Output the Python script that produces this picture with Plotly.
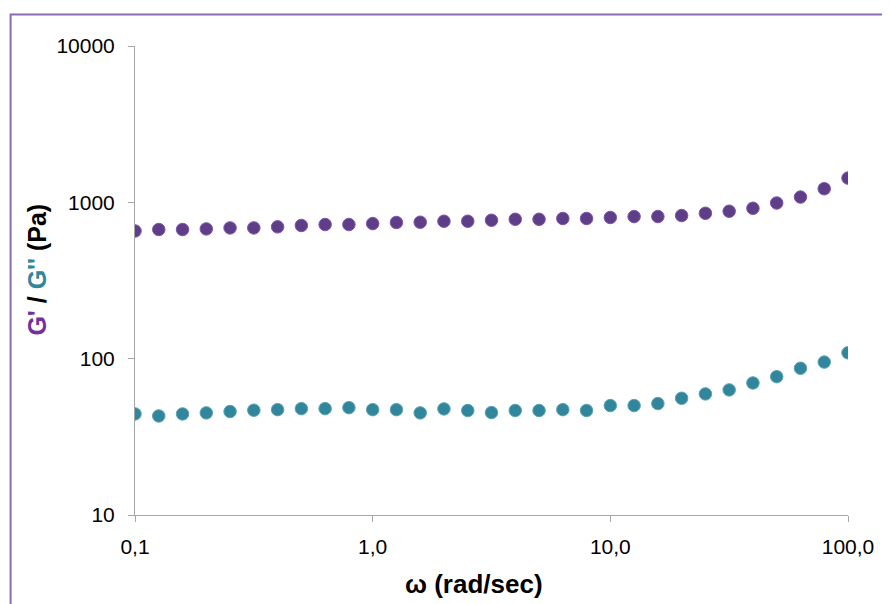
import plotly.graph_objects as go

# angular frequency (rad/s), 10 points per decade
omega = [0.1, 0.1259, 0.1585, 0.1995, 0.2512, 0.3162, 0.3981, 0.5012, 0.631, 0.7943,
         1.0, 1.259, 1.585, 1.995, 2.512, 3.162, 3.981, 5.012, 6.31, 7.943,
         10.0, 12.59, 15.85, 19.95, 25.12, 31.62, 39.81, 50.12, 63.1, 79.43, 100.0]

g_storage = [656, 670, 670, 676, 686, 686, 697, 711, 721, 721,
             731, 743, 746, 757, 757, 768, 779, 779, 788, 788,
             800, 811, 811, 823, 851, 877, 916, 990, 1081, 1222, 1429]

g_loss = [44.3, 43.0, 44.3, 45.0, 45.9, 46.8, 47.2, 47.9, 47.9, 48.6,
          47.2, 47.2, 45.0, 47.7, 46.6, 45.2, 46.6, 46.6, 47.2, 46.6,
          50.1, 50.1, 51.6, 55.8, 59.5, 63.1, 69.9, 76.7, 86.8, 95.1, 109]

x_tickvals = [0.1, 1, 10, 100]
x_ticktext = ["0,1", "1,0", "10,0", "100,0"]
y_tickvals = [10, 100, 1000, 10000]
y_ticktext = ["10", "100", "1000", "10000"]

PURPLE = "#5E3F87"
PURPLE_EDGE = "#7E55B0"
TEAL = "#31869B"
TEAL_EDGE = "#5AA3B5"
FONT = "Liberation Sans, Arial, sans-serif"

fig = go.Figure()
fig.add_trace(go.Scatter(x=omega, y=g_storage, mode="markers", name="G'",
                         marker=dict(size=12.5, color=PURPLE, line=dict(width=1, color=PURPLE_EDGE))))
fig.add_trace(go.Scatter(x=omega, y=g_loss, mode="markers", name="G''",
                         marker=dict(size=12.5, color=TEAL, line=dict(width=1, color=TEAL_EDGE))))

axis_common = dict(showgrid=False, zeroline=False, showline=True, linecolor="#A6A6A6", linewidth=1,
                   ticks="outside", ticklen=6, tickcolor="#A6A6A6", tickwidth=1,
                   tickfont=dict(family=FONT, size=21, color="#000000"))

fig.update_xaxes(type="log", range=[-1, 2], tickvals=x_tickvals, ticktext=x_ticktext,
                 ticklabelstandoff=7, **axis_common)
fig.update_yaxes(type="log", range=[1, 4], tickvals=y_tickvals, ticktext=y_ticktext,
                 ticklabelstandoff=9, **axis_common)

# the page adds an 8px body margin; work in page pixels and subtract it
OFF = 8
W, H = 890, 604 - OFF
L = 134.5 - OFF
T = 45.5 - OFF
R = W - (848 - OFF)
B = H - (515.5 - OFF)
pw, ph = W - L - R, H - T - B

def px_x(p):
    return (p - OFF - L) / pw

def px_y(p):
    return (H - B - (p - OFF)) / ph

fig.update_layout(
    width=W, height=H, autosize=False,
    margin=dict(l=L, r=R, t=T, b=B),
    plot_bgcolor="white", paper_bgcolor="white",
    showlegend=False,
    shapes=[dict(type="rect", xref="paper", yref="paper",
                 x0=px_x(10), x1=px_x(910), y0=px_y(620), y1=px_y(14),
                 line=dict(color="#8A6DB0", width=2), fillcolor="rgba(0,0,0,0)", layer="below")],
    annotations=[
        dict(xref="paper", yref="paper", x=px_x(474), y=px_y(585), showarrow=False,
             text="<b>ω (rad/sec)</b>", font=dict(family=FONT, size=26, color="#000000"),
             xanchor="center", yanchor="middle"),
        dict(xref="paper", yref="paper", x=px_x(36), y=px_y(270), showarrow=False, textangle=-90,
             text="<b><span style='color:#7030A0'>G'</span> / <span style='color:#31869B'>G''</span> (Pa)</b>",
             font=dict(family=FONT, size=25, color="#000000"),
             xanchor="center", yanchor="middle"),
    ],
)

fig.write_html("out.html")
